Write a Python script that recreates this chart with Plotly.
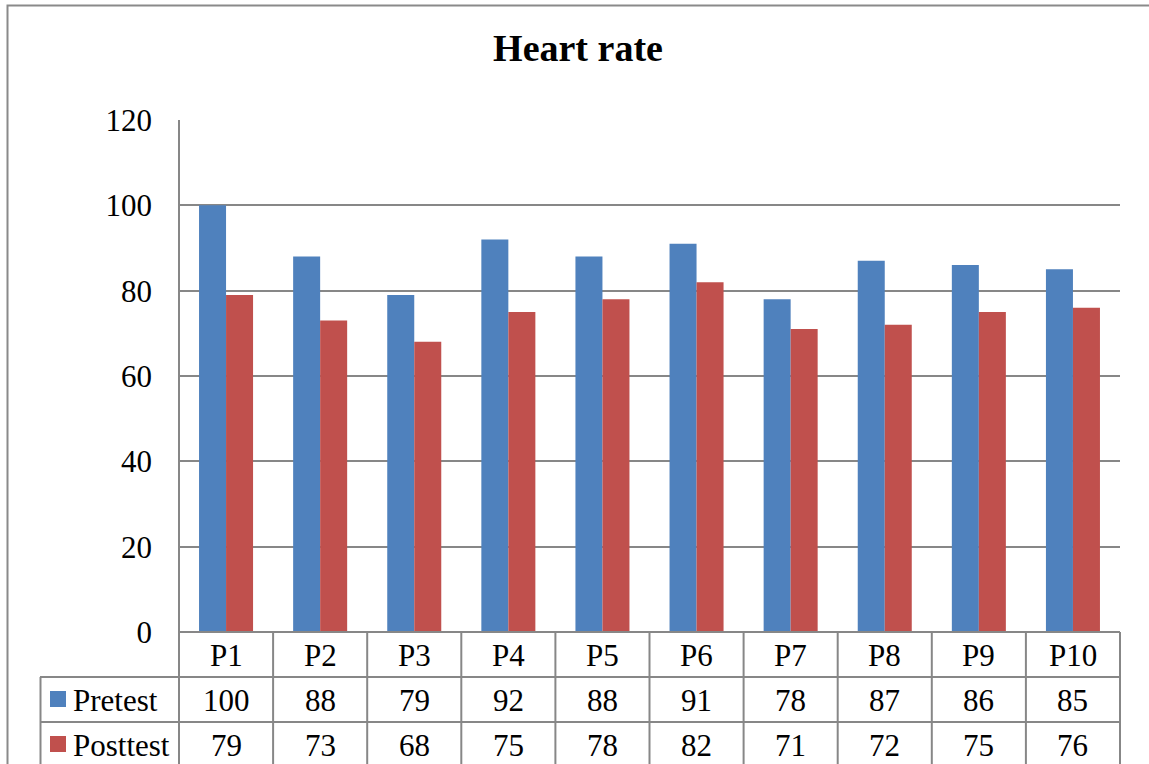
import plotly.graph_objects as go

categories = ["P1", "P2", "P3", "P4", "P5", "P6", "P7", "P8", "P9", "P10"]
pretest = [100, 88, 79, 92, 88, 91, 78, 87, 86, 85]
posttest = [79, 73, 68, 75, 78, 82, 71, 72, 75, 76]
series_names = ["Pretest", "Posttest"]
colors = ["#4F81BD", "#C0504D"]
title_text = "Heart rate"

W, H = 1149, 764
L, R, T, B = 179, 29, 120, 132
PW = W - L - R
PH = H - T - B

def px(x):
    return (x - L) / PW

def py(y):
    return (H - B - y) / PH

FONT = "Liberation Serif, Times New Roman, serif"
GRID = "#878787"

fig = go.Figure()
for name, vals, col in zip(series_names, [pretest, posttest], colors):
    fig.add_trace(go.Bar(x=categories, y=vals, name=name, marker=dict(color=col, line=dict(width=0))))

shapes = []
# outer chart border
shapes.append(dict(type="rect", xref="paper", yref="paper", x0=px(7.5), x1=px(1160), y0=py(790), y1=py(5.5),
                   line=dict(color="#8a8a8a", width=2), fillcolor="rgba(0,0,0,0)", layer="below"))
# left axis line
shapes.append(dict(type="line", xref="paper", yref="paper", x0=0, x1=0, y0=py(780), y1=1,
                   line=dict(color=GRID, width=2)))
# table horizontal lines
shapes.append(dict(type="line", xref="paper", yref="paper", x0=0, x1=1, y0=0, y1=0, line=dict(color=GRID, width=2)))
for yy in [677, 722]:
    shapes.append(dict(type="line", xref="paper", yref="paper", x0=px(40), x1=1, y0=py(yy), y1=py(yy),
                       line=dict(color=GRID, width=2)))
# left legend column edge
shapes.append(dict(type="line", xref="paper", yref="paper", x0=px(40.5), x1=px(40.5), y0=py(780), y1=py(677),
                   line=dict(color=GRID, width=2)))
# category dividers
n = len(categories)
for i in range(1, n + 1):
    xx = i / n
    shapes.append(dict(type="line", xref="paper", yref="paper", x0=xx, x1=xx, y0=py(780), y1=0,
                       line=dict(color=GRID, width=2)))
# legend keys
for k, col in enumerate(colors):
    yc = 699 + 45 * k
    shapes.append(dict(type="rect", xref="paper", yref="paper", x0=px(50), x1=px(66), y0=py(yc + 8), y1=py(yc - 8),
                       fillcolor=col, line=dict(width=0)))

annotations = []
TF = dict(family=FONT, size=31, color="black")
for i, c in enumerate(categories):
    annotations.append(dict(x=c, xref="x", y=py(655), yref="paper", text=c, showarrow=False, font=TF,
                            xanchor="center", yanchor="middle"))
    for k, vals in enumerate([pretest, posttest]):
        annotations.append(dict(x=c, xref="x", y=py(700 + 45 * k), yref="paper", text=str(vals[i]),
                                showarrow=False, font=TF, xanchor="center", yanchor="middle"))
for k, name in enumerate(series_names):
    annotations.append(dict(x=px(71), xref="paper", y=py(700 + 45 * k), yref="paper", text=name, showarrow=False,
                            font=TF, xanchor="left", yanchor="middle"))

fig.update_layout(
    width=W, height=H,
    margin=dict(l=L, r=R, t=T, b=B, pad=0),
    paper_bgcolor="white", plot_bgcolor="white",
    title=dict(text="<b>" + title_text + "</b>", x=578 / W, xref="container", xanchor="center",
               y=1 - 48 / H, yref="container", yanchor="middle", font=dict(family=FONT, size=38, color="black")),
    barmode="group", bargap=0.426, bargroupgap=0,
    showlegend=False,
    xaxis=dict(showticklabels=False, showgrid=False, showline=False, zeroline=False, ticks="",
               range=[-0.5, n - 0.5]),
    yaxis=dict(range=[0, 120], dtick=20, showgrid=True, gridcolor=GRID, gridwidth=2, zeroline=False,
               showline=False, ticks="", ticklabelstandoff=26,
               tickfont=dict(family=FONT, size=31, color="black")),
    shapes=shapes, annotations=annotations,
)

fig.write_html("out.html", config={"displayModeBar": False},
               post_script="document.body.style.margin='0px';document.body.style.overflow='hidden';")
